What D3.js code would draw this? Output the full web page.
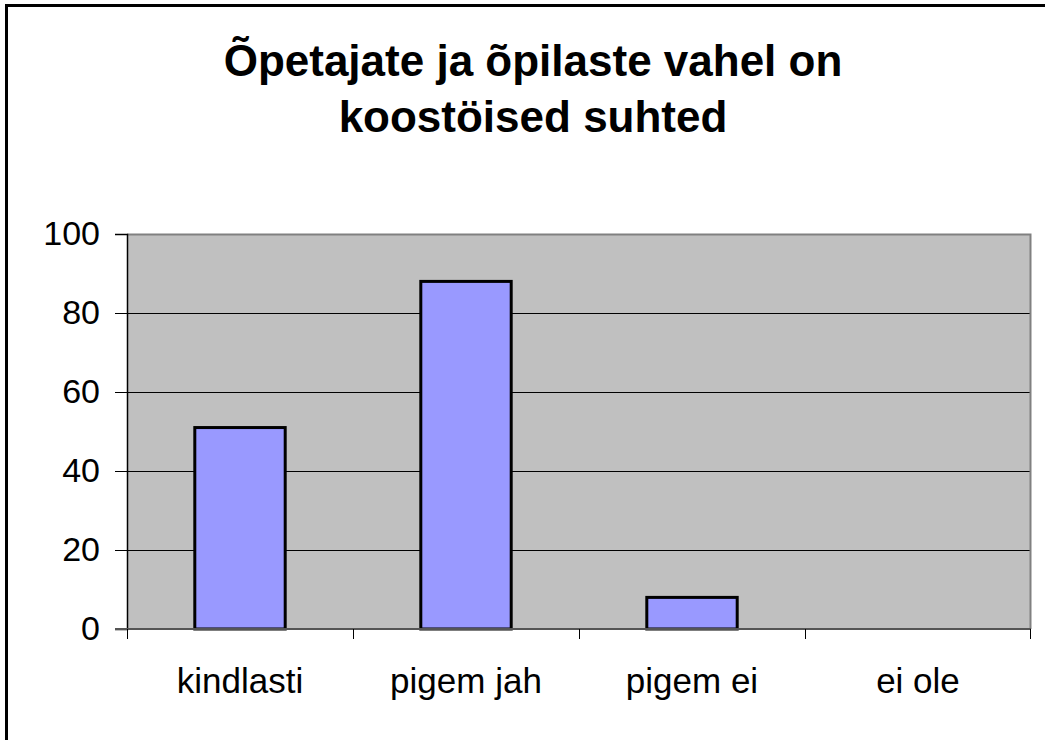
<!DOCTYPE html>
<html>
<head>
<meta charset="utf-8">
<title>Õpetajate ja õpilaste vahel on koostöised suhted</title>
<script src="https://d3js.org/d3.v7.min.js"></script>
<style>
body { margin: 0; background: #fff; }
svg text { font-family: 'Liberation Sans', Arial, sans-serif; fill: #000; }
</style>
</head>
<body>
<script>
// data
var categories = ["kindlasti", "pigem jah", "pigem ei", "ei ole"];
var values = [51, 88, 8, 0];
var yTicks = [0, 20, 40, 60, 80, 100];
var titleLines = ["Õpetajate ja õpilaste vahel on", "koostöised suhted"];

var W = 1045, H = 740;
var plot = {left: 127, top: 234, right: 1031, bottom: 629};

var svg = d3.select("body").append("svg").attr("width", W).attr("height", H);

// outer chart border (runs off the right/bottom of the picture)
svg.append("rect").attr("x", 6.5).attr("y", 5.5).attr("width", W + 10).attr("height", H + 10)
  .attr("fill", "#fff").attr("stroke", "#000").attr("stroke-width", 3);

var x = d3.scaleBand().domain(categories).range([plot.left, plot.right]).paddingInner(0.6).paddingOuter(0.3);
var xb = d3.scaleBand().domain(categories).range([plot.left, plot.right]);
var y = d3.scaleLinear().domain([0, 100]).range([plot.bottom, plot.top]);

// plot background
svg.append("rect").attr("x", plot.left).attr("y", plot.top)
  .attr("width", plot.right - plot.left).attr("height", plot.bottom - plot.top)
  .attr("fill", "#c0c0c0");

// gridlines
svg.append("g").selectAll("line").data(yTicks.filter(function(d){ return d > 0 && d < 100; }))
  .enter().append("line")
  .attr("x1", plot.left).attr("x2", plot.right)
  .attr("y1", function(d){ return Math.round(y(d)) + 0.5; })
  .attr("y2", function(d){ return Math.round(y(d)) + 0.5; })
  .attr("stroke", "#000").attr("stroke-width", 1);

// plot frame top/right
svg.append("path")
  .attr("d", "M" + plot.left + "," + (plot.top + 0.5) + "H" + (plot.right - 0.5) + "V" + plot.bottom)
  .attr("fill", "none").attr("stroke", "#808080").attr("stroke-width", 2);

// bars
svg.append("g").selectAll("rect").data(values).enter().append("rect")
  .attr("x", function(d, i){ return x(categories[i]); })
  .attr("width", x.bandwidth())
  .attr("y", function(d){ return y(d); })
  .attr("height", function(d){ return y(0) - y(d); })
  .attr("fill", "#9999ff").attr("stroke", "#000").attr("stroke-width", 3)
  .style("display", function(d){ return d > 0 ? null : "none"; });

// y axis
var yAxis = svg.append("g").attr("transform", "translate(" + plot.left + ",0)")
  .call(d3.axisLeft(y).tickValues(yTicks).tickSize(12).tickPadding(15));
yAxis.attr("font-size", null).attr("font-family", null);
yAxis.select(".domain").attr("stroke", "#000").attr("stroke-width", 1.5);
yAxis.selectAll(".tick line").attr("stroke", "#000");
yAxis.selectAll("text").attr("font-size", 34).style("font-size", "34px").attr("dy", "0.3em");

// x axis
var xAxis = svg.append("g").attr("transform", "translate(0," + plot.bottom + ")");
xAxis.append("line").attr("x1", plot.left - 12).attr("x2", plot.right)
  .attr("y1", 0).attr("y2", 0).attr("stroke", "#555").attr("stroke-width", 2);
xAxis.selectAll("line.tk").data(categories.concat(["end"])).enter().append("line")
  .attr("class", "tk")
  .attr("x1", function(d){ return d === "end" ? plot.right - 0.5 : xb(d) + 0.5; })
  .attr("x2", function(d){ return d === "end" ? plot.right - 0.5 : xb(d) + 0.5; })
  .attr("y1", 0).attr("y2", 10).attr("stroke", "#000");
xAxis.selectAll("text").data(categories).enter().append("text")
  .attr("x", function(d){ return xb(d) + xb.bandwidth() / 2; })
  .attr("y", 64).attr("text-anchor", "middle")
  .attr("font-size", 35).style("font-size", "35px").text(function(d){ return d; });

// title
svg.append("g").selectAll("text").data(titleLines).enter().append("text")
  .attr("x", 533).attr("y", function(d, i){ return 76 + i * 56; })
  .attr("text-anchor", "middle")
  .attr("font-size", 44).style("font-size", "44px").style("font-weight", "bold")
  .text(function(d){ return d; });
</script>
</body>
</html>
